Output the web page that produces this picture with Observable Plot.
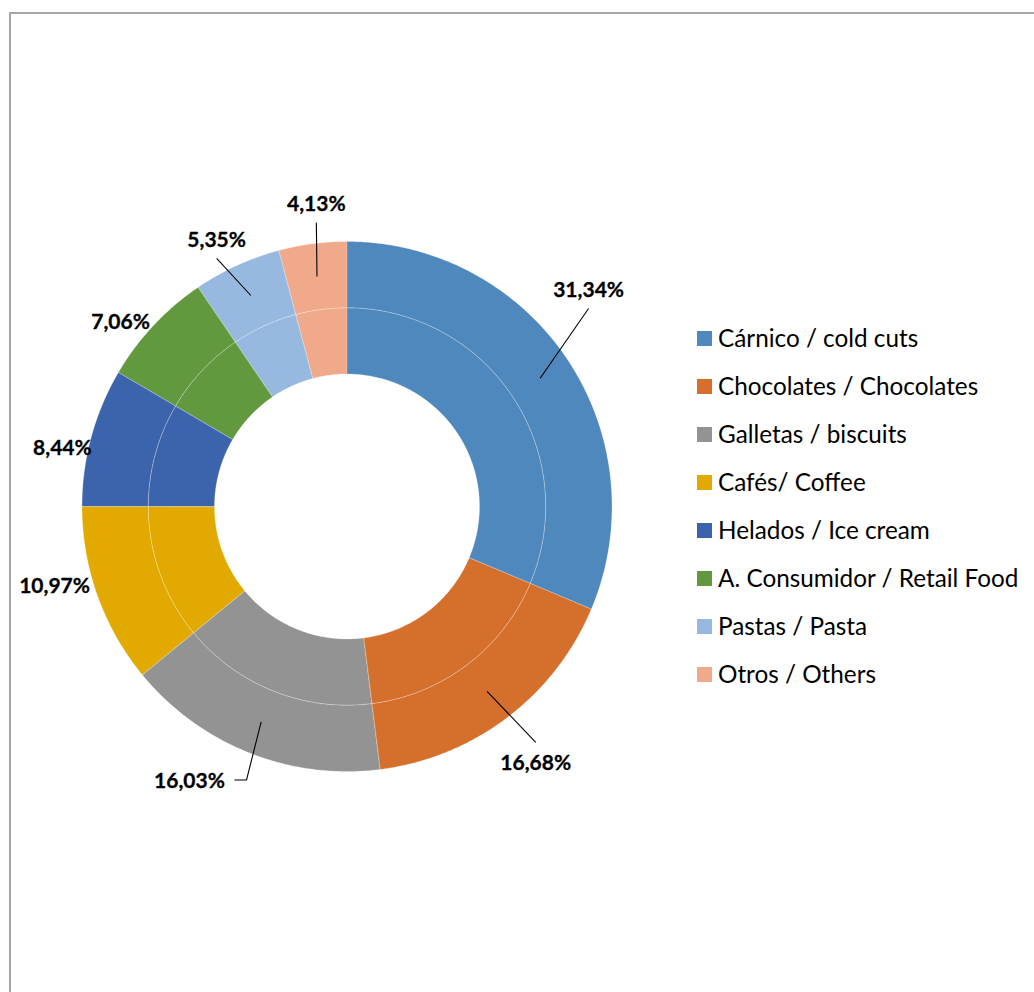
<!DOCTYPE html>
<html>
<head>
<meta charset="utf-8">
<script src="https://cdn.jsdelivr.net/npm/d3@7"></script>
<script src="https://cdn.jsdelivr.net/npm/@observablehq/plot@0.6"></script>
<style>
  html, body { margin: 0; padding: 0; background: #fff; overflow: hidden; }
  #wrap { position: relative; width: 1034px; height: 992px; overflow: hidden; }
  #chart { position: absolute; left: 0; top: 0; }
  #frame { position: absolute; left: 9px; top: 12px; width: 1200px; height: 1200px;
           border: 2px solid #a6a6a6; box-sizing: border-box; pointer-events: none; z-index: 5; }
  #legend { position: absolute; left: 697px; top: 0; font-family: Lato, "Noto Sans", sans-serif;
            font-size: 24.3px; color: #000; }
  .row { position: absolute; left: 0; height: 48px; display: flex; align-items: center; white-space: nowrap; }
  .sw { width: 15px; height: 15px; margin-right: 6px; flex: none; }
  .row span { position: relative; top: -1px; }
</style>
</head>
<body>
<div id="wrap">
  <div id="chart"></div>
  <div id="legend"></div>
  <div id="frame"></div>
</div>
<script>
// ---- data ----
const categories = [
  "Cárnico / cold cuts",
  "Chocolates / Chocolates",
  "Galletas / biscuits",
  "Cafés/ Coffee",
  "Helados / Ice cream",
  "A. Consumidor / Retail Food",
  "Pastas / Pasta",
  "Otros / Others"
];
const shares = [31.34, 16.68, 16.03, 10.97, 8.44, 7.06, 5.35, 4.13];
const colors = ["#4e88bd", "#d56f2c", "#939393", "#e2aa00", "#3c64ad", "#62993e", "#98b9df", "#f0a98b"];

// ---- layout (data labels were hand-placed in the original) ----
const labelAngle  = [48.2, 143.7, 209.8, 254.7, 281.5, 309.1, 333.9, 354.2]; // deg clockwise from 12 o'clock
const labelRadius = [1.223, 1.203, 1.196, 1.144, 1.096, 1.101, 1.118, 1.145]; // in outer radii
const leaderType  = ["bottom", "top", "right", null, null, null, "bottom", "bottom"];

const cx = 346.5, cy = 506, R = 265;
const k = 1 / R; // one pixel in data units
const holeR = 0.5, midR = 0.75, outerR = 1;

// cumulative angles
const total = d3.sum(shares);
let acc = 0;
const slices = shares.map((v, i) => {
  const a0 = acc / total * 2 * Math.PI;
  acc += v;
  const a1 = acc / total * 2 * Math.PI;
  return {i, cat: categories[i], v, a0, a1, mid: (a0 + a1) / 2};
});

// sector polygons for two rings (same series drawn twice, like the Excel double doughnut)
const polys = [];
for (const ring of [[holeR, midR], [midR, outerR]]) {
  for (const s of slices) {
    const key = s.cat + "|" + ring[0];
    const n = Math.max(2, Math.ceil((s.a1 - s.a0) / (Math.PI / 360)));
    for (let j = 0; j <= n; j++) {
      const a = s.a0 + (s.a1 - s.a0) * j / n;
      polys.push({key, cat: s.cat, x: ring[1] * Math.sin(a), y: ring[1] * Math.cos(a)});
    }
    for (let j = n; j >= 0; j--) {
      const a = s.a0 + (s.a1 - s.a0) * j / n;
      polys.push({key, cat: s.cat, x: ring[0] * Math.sin(a), y: ring[0] * Math.cos(a)});
    }
  }
}

// labels
const fmt = v => v.toFixed(2).replace(".", ",") + "%";
const labels = slices.map(s => {
  const a = labelAngle[s.i] * Math.PI / 180, r = labelRadius[s.i];
  return {text: fmt(s.v), x: r * Math.sin(a), y: r * Math.cos(a)};
});

// leader lines
const leaders = [];
slices.forEach(s => {
  const t = leaderType[s.i];
  if (!t) return;
  const L = labels[s.i];
  const key = "L" + s.i;
  leaders.push({key, x: 0.875 * Math.sin(s.mid), y: 0.875 * Math.cos(s.mid)});
  if (t === "bottom") leaders.push({key, x: L.x, y: L.y - 18 * k});
  else if (t === "top") leaders.push({key, x: L.x, y: L.y + 21 * k});
  else if (t === "right") {
    leaders.push({key, x: L.x + 57 * k, y: L.y + 1.5 * k});
    leaders.push({key, x: L.x + 45 * k, y: L.y + 1.5 * k});
  }
});

const chart = Plot.plot({
  width: 1034,
  height: 992,
  margin: 0,
  style: {background: "transparent", fontFamily: "Lato, 'Noto Sans', sans-serif"},
  x: {type: "linear", domain: [-1, 1], range: [cx - R, cx + R], axis: null},
  y: {type: "linear", domain: [-1, 1], range: [cy + R, cy - R], axis: null},
  color: {type: "ordinal", domain: categories, range: colors},
  marks: [
    Plot.line(polys, {
      x: "x", y: "y", z: "key", fill: "cat", curve: "linear-closed",
      stroke: "white", strokeOpacity: 0.32, strokeWidth: 0.75
    }),
    Plot.line(leaders, {x: "x", y: "y", z: "key", stroke: "black", strokeWidth: 1.1, strokeLinecap: "butt"}),
    Plot.text(labels, {
      x: "x", y: "y", text: "text", fontSize: 21, fontWeight: "bold", fill: "black",
      stroke: "black", strokeWidth: 0.3,
      fontFamily: "Lato, 'Noto Sans', sans-serif"
    })
  ]
});
document.getElementById("chart").appendChild(chart);

// legend
const leg = d3.select("#legend");
categories.forEach((c, i) => {
  const row = leg.append("div").attr("class", "row").style("top", (338.5 - 24 + i * 48.07) + "px");
  row.append("div").attr("class", "sw").style("background", colors[i]);
  row.append("span").text(c);
});
</script>
</body>
</html>
